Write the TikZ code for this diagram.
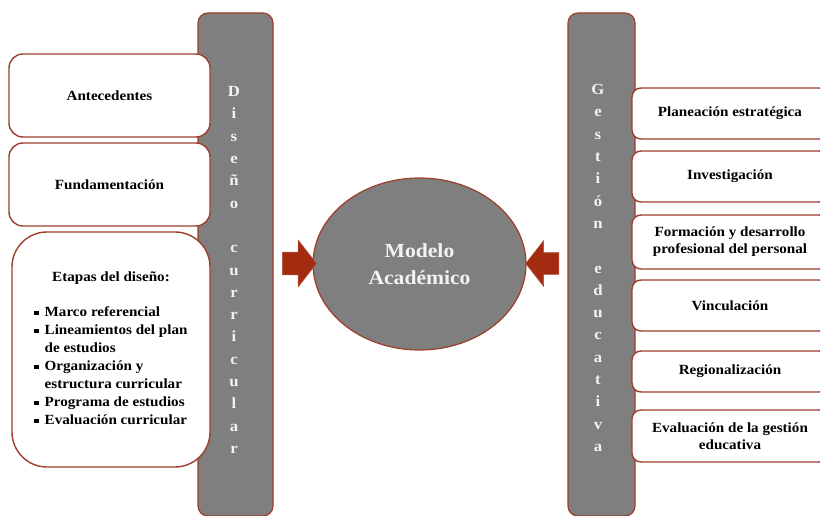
\documentclass[tikz,border=0pt]{standalone}
\usepackage{fontspec}
\setmainfont{Liberation Serif}[FakeStretch=1.08]
\usetikzlibrary{shapes.geometric,shapes.arrows}
\definecolor{bord}{RGB}{158,62,44}
\definecolor{barfill}{RGB}{127,127,127}
\definecolor{arrowred}{RGB}{163,44,16}
\definecolor{lighttext}{RGB}{242,242,242}
\newcommand{\sqb}{\raisebox{0.25ex}{\rule{4.2pt}{4.2pt}}}
\begin{document}
\begin{tikzpicture}[x=1pt,y=-1pt,
  barbox/.style={draw=bord, line width=1.2pt, fill=barfill, rounded corners=10pt,
    minimum width=#1, minimum height=503pt, inner sep=0pt},
  barletters/.style={text=lighttext, font=\fontsize{15.5}{22.3}\selectfont\bfseries,
    align=center, inner sep=0pt},
  leftbox/.style={draw=bord, line width=1.4pt, fill=white, rounded corners=14pt,
    minimum width=201pt, inner sep=0pt, align=center,
    font=\fontsize{14}{17}\selectfont\bfseries},
  rightbox/.style={draw=bord, line width=1.4pt, fill=white, rounded corners=9pt,
    minimum width=196pt, inner sep=0pt, align=center,
    font=\fontsize{14}{17}\selectfont\bfseries},
  bigarrow/.style={single arrow, fill=arrowred, draw=arrowred!85!white, line width=0.6pt,
    inner sep=0pt, minimum height=34pt, single arrow head extend=12pt,
    single arrow tip angle=104},
]
\useasboundingbox (0,0) rectangle (820,516);

% bars
\node[barbox=75pt] (dbar) at (235.5,264.5) {};
\node[barbox=67pt] (gbar) at (601.5,264.5) {};

% left boxes
\node[leftbox, minimum height=83pt] (antec) at (109.5,95.5) {Antecedentes};
\node[leftbox, minimum height=83pt] (fund) at (109.5,184.5) {Fundamentación};
\node[leftbox, minimum width=198pt, minimum height=235pt, rounded corners=35pt,
      font=\fontsize{14}{18}\selectfont\bfseries] (etapas) at (111,349.5)
  {\begin{tabular}{@{}l@{\hspace{6pt}}l@{}}
   \multicolumn{2}{c}{Etapas del diseño:}\\[17pt]
   \sqb & Marco referencial\\
   \sqb & Lineamientos del plan\\
        & de estudios\\
   \sqb & Organización y\\
        & estructura curricular\\
   \sqb & Programa de estudios\\
   \sqb & Evaluación curricular
   \end{tabular}};

% right boxes
\node[rightbox, minimum height=51pt] (plan) at (730,113.5) {Planeación estratégica};
\node[rightbox, minimum height=51pt] (inv) at (730,176.5) {Investigación};
\node[rightbox, minimum height=54pt] (form) at (730,242) {Formación y desarrollo\\profesional del personal};
\node[rightbox, minimum height=51pt] (vinc) at (730,305.5) {Vinculación};
\node[rightbox, minimum height=41pt] (reg) at (730,371.5) {Regionalización};
\node[rightbox, minimum height=52pt] (evalg) at (730,436) {Evaluación de la gestión\\educativa};

% vertical bar texts
\node[barletters] (dtext) at (234,270)
  {D\\i\\s\\e\\ñ\\o\\\mbox{}\\c\\u\\r\\r\\i\\c\\u\\l\\a\\r};
\node[barletters] (gtext) at (598,268)
  {G\\e\\s\\t\\i\\ó\\n\\\mbox{}\\e\\d\\u\\c\\a\\t\\i\\v\\a};

% central ellipse
\node[ellipse, draw=bord, line width=1.2pt, fill=barfill, minimum width=213pt,
      minimum height=172pt, inner sep=0pt, align=center, text=lighttext,
      font=\fontsize{20}{27}\selectfont\bfseries] (modelo) at (419.5,264)
  {Modelo\\Académico};

% arrows
\node[bigarrow] (larrow) at (295,263.5) {\rule{0pt}{22pt}};
\node[bigarrow, shape border rotate=180, minimum height=33pt] (rarrow) at (546.5,263.5) {\rule{0pt}{21pt}};
\end{tikzpicture}
\end{document}
